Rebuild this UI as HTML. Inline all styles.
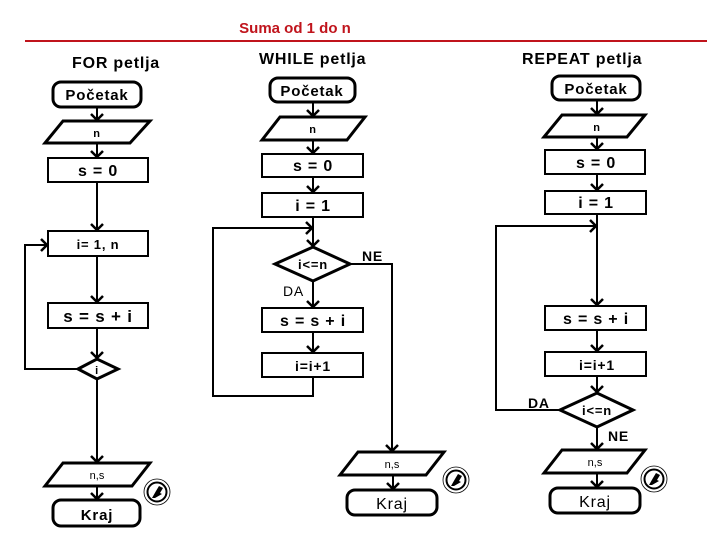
<!DOCTYPE html>
<html><head><meta charset="utf-8"><style>
html,body{margin:0;padding:0;background:#fff;}
svg{display:block;}
text{font-family:"Liberation Sans",sans-serif;fill:#000;}
.ls{letter-spacing:0.8px;}
</style></head><body>
<svg width="720" height="540" viewBox="0 0 720 540" xmlns="http://www.w3.org/2000/svg">
<defs>
<g id="ico">
<circle cx="0" cy="0" r="13" fill="none" stroke="#000" stroke-width="0.8"/>
<circle cx="0" cy="0" r="9.5" fill="none" stroke="#000" stroke-width="2"/>
<path d="M-5,6 L-1,-1 L2,-6 L6,-4 L3,1 L5,2 L-2,6 Z" fill="#000"/>
</g>
</defs>
<text x="295" y="33" font-size="15" text-anchor="middle" style="fill:#c0141c" font-weight="bold">Suma od 1 do n</text>
<line x1="25" y1="41" x2="707" y2="41" stroke="#c0141c" stroke-width="2"/>

<g fill="none" stroke="#000" stroke-width="2">
<rect x="53" y="82" width="88" height="25" rx="8" stroke-width="3"/>
<polygon points="45,143 63,121 150,121 130,143" stroke-width="3"/>
<rect x="48" y="158" width="100" height="24"/>
<rect x="48" y="231" width="100" height="25"/>
<rect x="48" y="303" width="100" height="25"/>
<polygon points="78,369 97,359 118,369 97,379" stroke-width="3"/>
<polygon points="45,486 63,463 150,463 132,486" stroke-width="3"/>
<rect x="53" y="500" width="87" height="26" rx="8" stroke-width="3"/>
<path d="M97,107V121 M97,143V158 M97,182V231 M97,256V303 M97,328V359 M97,379V463 M97,486V500"/>
<path d="M78,369H25V245H48"/>
<rect x="270" y="78" width="85" height="24" rx="8" stroke-width="3"/>
<polygon points="262,140 280,117 365,117 347,140" stroke-width="3"/>
<rect x="262" y="154" width="101" height="23"/>
<rect x="262" y="193" width="101" height="24"/>
<polygon points="275,264 313,247 350,264 313,281" stroke-width="3"/>
<rect x="262" y="308" width="101" height="24"/>
<rect x="262" y="353" width="101" height="24"/>
<polygon points="340,475 358,452 444,452 426,475" stroke-width="3"/>
<rect x="347" y="490" width="90" height="25" rx="8" stroke-width="3"/>
<path d="M313,102V117 M313,140V154 M313,177V193 M313,217V247 M313,281V308 M313,332V353 M313,377V396H213V228H313"/>
<path d="M350,264H392V452 M393,475V490"/>
<rect x="552" y="76" width="88" height="24" rx="8" stroke-width="3"/>
<polygon points="544,137 562,115 645,115 627,137" stroke-width="3"/>
<rect x="545" y="150" width="100" height="24"/>
<rect x="545" y="191" width="101" height="23"/>
<rect x="545" y="306" width="101" height="24"/>
<rect x="545" y="352" width="101" height="24"/>
<polygon points="560,410 597,393 633,410 597,427" stroke-width="3"/>
<polygon points="544,473 562,450 645,450 627,473" stroke-width="3"/>
<rect x="550" y="488" width="90" height="25" rx="8" stroke-width="3"/>
<path d="M597,100V115 M597,137V150 M597,174V191 M597,214V306 M597,330V352 M597,376V393 M597,427V450 M597,473V488"/>
<path d="M560,410H496V226H597"/>
</g>
<g fill="none" stroke="#000" stroke-width="2.5">
<path d="M91,114L97,120L103,114 M91,151L97,157L103,151 M91,224L97,230L103,224 M91,296L97,302L103,296 M91,352L97,358L103,352 M91,456L97,462L103,456 M91,493L97,499L103,493 M41,239L47,245L41,251"/>
<path d="M307,110L313,116L319,110 M307,147L313,153L319,147 M307,186L313,192L319,186 M307,240L313,246L319,240 M307,301L313,307L319,301 M307,346L313,352L319,346 M386,445L392,451L398,445 M387,483L393,489L399,483 M306,222L312,228L306,234"/>
<path d="M591,108L597,114L603,108 M591,143L597,149L603,143 M591,184L597,190L603,184 M591,299L597,305L603,299 M591,345L597,351L603,345 M591,386L597,392L603,386 M591,443L597,449L603,443 M591,481L597,487L603,481 M590,220L596,226L590,232"/>
</g>
<g font-weight="bold" class="ls">
<text x="72" y="68" font-size="16">FOR petlja</text>
<text x="97" y="100" font-size="15" text-anchor="middle">Početak</text>
<text x="97" y="137" font-size="11" text-anchor="middle">n</text>
<text x="98" y="176" font-size="16" text-anchor="middle">s = 0</text>
<text x="98" y="249" font-size="13" text-anchor="middle">i= 1,  n</text>
<text x="98" y="322" font-size="17" text-anchor="middle">s = s + i</text>
<text x="97" y="374" font-size="11" text-anchor="middle">i</text>
<text x="97" y="520" font-size="15" text-anchor="middle">Kraj</text>
<text x="259" y="64" font-size="16">WHILE petlja</text>
<text x="312" y="96" font-size="15" text-anchor="middle">Početak</text>
<text x="313" y="133" font-size="11" text-anchor="middle">n</text>
<text x="313" y="171" font-size="16" text-anchor="middle">s = 0</text>
<text x="313" y="211" font-size="16" text-anchor="middle">i = 1</text>
<text x="313" y="269" font-size="13" text-anchor="middle">i&lt;=n</text>
<text x="362" y="261" font-size="14">NE</text>
<text x="283" y="296" font-size="14" font-weight="normal">DA</text>
<text x="313" y="326" font-size="16" text-anchor="middle">s = s + i</text>
<text x="313" y="371" font-size="14" text-anchor="middle">i=i+1</text>
<text x="392" y="509" font-size="16" text-anchor="middle" font-weight="normal">Kraj</text>
<text x="522" y="64" font-size="16">REPEAT petlja</text>
<text x="596" y="94" font-size="15" text-anchor="middle">Početak</text>
<text x="597" y="131" font-size="11" text-anchor="middle">n</text>
<text x="596" y="168" font-size="16" text-anchor="middle">s = 0</text>
<text x="596" y="208" font-size="16" text-anchor="middle">i = 1</text>
<text x="596" y="324" font-size="16" text-anchor="middle">s = s + i</text>
<text x="597" y="370" font-size="14" text-anchor="middle">i=i+1</text>
<text x="597" y="415" font-size="13" text-anchor="middle">i&lt;=n</text>
<text x="528" y="408" font-size="14">DA</text>
<text x="608" y="441" font-size="14">NE</text>
<text x="595" y="507" font-size="16" text-anchor="middle" font-weight="normal">Kraj</text>
</g>
<g font-size="11">
<text x="97" y="479" text-anchor="middle">n,s</text>
<text x="392" y="468" text-anchor="middle">n,s</text>
<text x="595" y="466" text-anchor="middle">n,s</text>
</g>
<use href="#ico" x="157" y="492"/>
<use href="#ico" x="456" y="480"/>
<use href="#ico" x="654" y="479"/>
</svg>
</body></html>
